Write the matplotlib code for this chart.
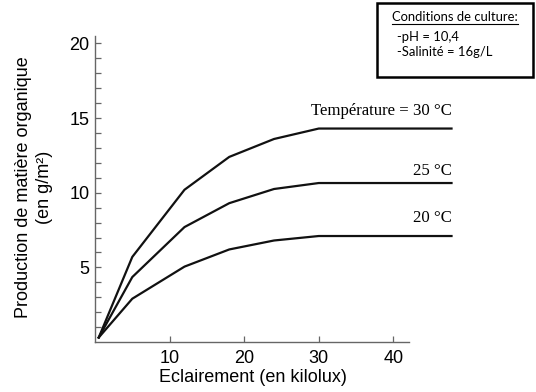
import matplotlib
matplotlib.use("Agg")
import matplotlib.pyplot as plt
from matplotlib.lines import Line2D

# Data
light = [0.5, 5, 12, 18, 24, 30, 47.8]
prod_30 = [0.3, 5.7, 10.2, 12.4, 13.6, 14.3, 14.3]
prod_25 = [0.3, 4.35, 7.7, 9.3, 10.25, 10.65, 10.65]
prod_20 = [0.3, 2.9, 5.05, 6.2, 6.8, 7.1, 7.1]
series_labels = ["Température = 30 °C", "25 °C", "20 °C"]
label_y = [15.45, 11.45, 8.3]
xticks = [10, 20, 30, 40]
yticks_major = [5, 10, 15, 20]
yticks_all = list(range(1, 21))

W, H = 536, 392
fig = plt.figure(figsize=(W / 100, H / 100), dpi=100)
ax = fig.add_axes([95 / W, 50 / H, 358 / W, 306 / H])

for ys in (prod_30, prod_25, prod_20):
    ax.plot(light, ys, color="#111111", lw=1.6, clip_on=False, solid_joinstyle="round")

ax.set_xlim(0, 48)
ax.set_ylim(0, 20.5)

for s in ("top", "right"):
    ax.spines[s].set_visible(False)
ax.spines["bottom"].set_bounds(0, 42.1)
for s in ("left", "bottom"):
    ax.spines[s].set_color("#666666")
    ax.spines[s].set_linewidth(1.0)

ax.set_xticks(xticks)
ax.set_xticklabels([str(t) for t in xticks], fontsize=13, family="Liberation Sans")
ax.set_yticks(yticks_all)
ax.set_yticklabels([str(t) if t in yticks_major else "" for t in yticks_all],
                   fontsize=13, family="Liberation Sans")
ax.tick_params(axis="both", direction="in", length=4, width=0.9, color="#666666")
ax.tick_params(axis="x", pad=6)
ax.tick_params(axis="y", pad=4)

serif = ["Liberation Serif", "DejaVu Serif"]
for lab, ly in zip(series_labels, label_y):
    ax.text(47.8, ly, lab, ha="right", va="center", fontsize=12.1, family=serif)

fig.text(34 / W, 1 - 187 / H, "Production de matière organique\n(en g/m²)",
         rotation=90, ha="center", va="center", multialignment="center",
         fontsize=13, family="Liberation Sans", linespacing=1.3)
fig.text(253 / W, 1 - 378 / H, "Eclairement (en kilolux)", ha="center", va="center",
         fontsize=13, family="Liberation Sans")

# Conditions box
box_font = ["Lato", "DejaVu Sans"]
rect = plt.Rectangle((377 / W, 1 - 77 / H), 156 / W, 74 / H, transform=fig.transFigure,
                     fill=False, edgecolor="black", lw=1.8)
fig.add_artist(rect)
t1 = fig.text(392 / W, 1 - 17 / H, "Conditions de culture:", ha="left", va="center",
              fontsize=9.4, family=box_font)
fig.text(397 / W, 1 - 37 / H, "-pH = 10,4", ha="left", va="center", fontsize=9.4, family=box_font)
fig.text(397 / W, 1 - 51.5 / H, "-Salinité = 16g/L", ha="left", va="center", fontsize=9.4, family=box_font)

fig.canvas.draw()
bb = t1.get_window_extent(renderer=fig.canvas.get_renderer())
uy = (bb.y0 - 0.5) / H
fig.add_artist(Line2D([bb.x0 / W, bb.x1 / W], [uy, uy], transform=fig.transFigure,
                      color="black", lw=0.8))

fig.savefig("out.png", dpi=100)
